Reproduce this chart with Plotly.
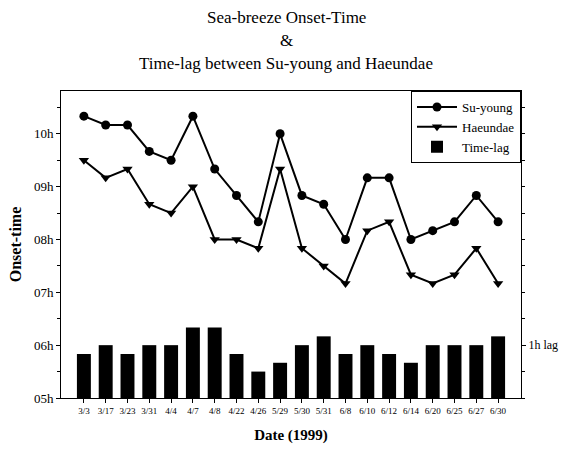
import plotly.graph_objects as go

dates = ["3/3", "3/17", "3/23", "3/31", "4/4", "4/7", "4/8", "4/22", "4/26", "5/29",
         "5/30", "5/31", "6/8", "6/10", "6/12", "6/14", "6/20", "6/25", "6/27", "6/30"]

suyoung = ["10:20", "10:10", "10:10", "9:40", "9:30", "10:20", "9:20", "8:50", "8:20", "10:00",
           "8:50", "8:40", "8:00", "9:10", "9:10", "8:00", "8:10", "8:20", "8:50", "8:20"]

haeundae = ["9:30", "9:10", "9:20", "8:40", "8:30", "9:00", "8:00", "8:00", "7:50", "9:20",
            "7:50", "7:30", "7:10", "8:10", "8:20", "7:20", "7:10", "7:20", "7:50", "7:10"]

lag_minutes = [50, 60, 50, 60, 60, 80, 80, 50, 30, 40,
               60, 70, 50, 60, 50, 40, 60, 60, 60, 70]

title_lines = ["Sea-breeze Onset-Time", "&", "Time-lag between Su-young and Haeundae"]


def to_hours(t):
    h, m = t.split(":")
    return int(h) + int(m) / 60.0


su_h = [to_hours(t) for t in suyoung]
ha_h = [to_hours(t) for t in haeundae]
lag_h = [m / 60.0 for m in lag_minutes]

FONT = "Liberation Serif"
Y0, Y1 = 5.0, 10.81

fig = go.Figure()
fig.add_trace(go.Scatter(
    x=dates, y=su_h, name="Su-young", mode="lines+markers",
    line=dict(color="black", width=2),
    marker=dict(symbol="circle", size=9, color="black"),
))
fig.add_trace(go.Scatter(
    x=dates, y=ha_h, name="Haeundae", mode="lines+markers",
    line=dict(color="black", width=2),
    marker=dict(symbol="triangle-down", size=9, color="black"),
))
fig.add_trace(go.Bar(
    x=dates, y=lag_h, name="Time-lag", yaxis="y2",
    marker=dict(color="black", line=dict(width=0)), width=0.64,
))

for txt, yp in zip(title_lines, [1.241, 1.166, 1.091]):
    fig.add_annotation(
        text=txt, x=0.49, xref="paper", y=yp, yref="paper",
        xanchor="center", yanchor="middle", showarrow=False,
        font=dict(family=FONT, size=17, color="black"),
    )

fig.update_layout(
    width=564, height=455,
    margin=dict(l=61, r=43, t=91, b=57, autoexpand=False),
    paper_bgcolor="white", plot_bgcolor="white",
    font=dict(family=FONT, color="black"),
    showlegend=True,
    xaxis=dict(
        type="category", range=[-1.05, len(dates) - 1 + 1.05],
        showline=True, linecolor="black", linewidth=1, mirror=True,
        ticks="outside", ticklen=4, tickcolor="black",
        tickfont=dict(family=FONT, size=9), tickangle=0,
        showgrid=False, zeroline=False, automargin=False,
        title=dict(text="<b>Date (1999)</b>", font=dict(family=FONT, size=15), standoff=14),
    ),
    yaxis=dict(
        range=[Y0, Y1], tickmode="linear", tick0=5, dtick=1,
        tickformat="02d", ticksuffix="h",
        showline=True, linecolor="black", linewidth=1,
        ticks="outside", ticklen=4, tickcolor="black",
        minor=dict(dtick=0.5, tick0=5, ticks="outside", ticklen=3, tickcolor="black", showgrid=False),
        tickfont=dict(family=FONT, size=13),
        showgrid=False, zeroline=False, automargin=False,
        title=dict(text="<b>Onset-time</b>", font=dict(family=FONT, size=16), standoff=8),
    ),
    yaxis2=dict(
        overlaying="y", side="right", range=[0, Y1 - Y0],
        tickmode="array", tickvals=[1], ticktext=["1h lag"],
        showline=True, linecolor="black", linewidth=1,
        ticks="outside", ticklen=4, tickcolor="black",
        minor=dict(tickmode="linear", tick0=0, dtick=0.5, ticks="outside", ticklen=3,
                   tickcolor="black", showgrid=False),
        tickfont=dict(family=FONT, size=12),
        showgrid=False, zeroline=False, automargin=False,
    ),
    legend=dict(
        x=1, y=1, xanchor="right", yanchor="top",
        bgcolor="white", bordercolor="black", borderwidth=1,
        font=dict(family=FONT, size=13, color="black"),
        tracegroupgap=2, itemwidth=40,
    ),
    bargap=0.36,
)

fig.write_html(
    "out.html",
    config={"displayModeBar": False},
    post_script="document.body.style.margin='0';document.body.style.overflow='hidden';",
)
